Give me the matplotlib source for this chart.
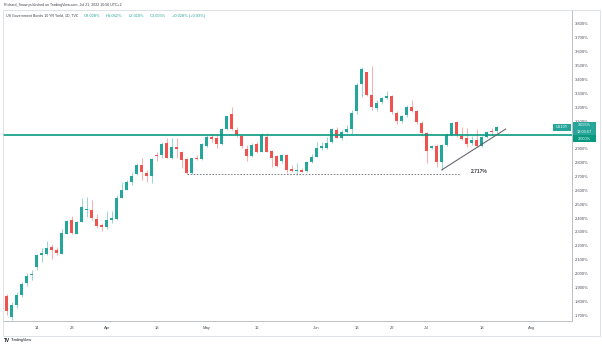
import matplotlib
matplotlib.use("Agg")
import matplotlib.pyplot as plt
import numpy as np
import pandas as pd
from matplotlib.patches import Rectangle

# ---- daily OHLC of the US 10Y yield (in %), 4 Mar 2022 .. 21 Jul 2022 ----
opens = [1.840, 1.689, 1.773, 1.845, 1.934, 1.987, 2.050, 2.131, 2.143, 2.191,
         2.172, 2.143, 2.288, 2.386, 2.288, 2.374, 2.456, 2.461, 2.391, 2.350,
         2.333, 2.389, 2.391, 2.547, 2.602, 2.658, 2.720, 2.783, 2.725, 2.701,
         2.857, 2.855, 2.939, 2.833, 2.910, 2.879, 2.824, 2.722, 2.836, 2.824,
         2.920, 2.987, 2.975, 2.934, 3.040, 3.148, 3.035, 2.994, 2.896, 2.850,
         2.937, 2.879, 2.985, 2.886, 2.848, 2.812, 2.855, 2.751, 2.740, 2.747,
         2.742, 2.802, 2.843, 2.908, 2.908, 2.946, 3.035, 2.975, 3.018, 3.042,
         3.175, 3.364, 3.451, 3.288, 3.192, 3.240, 3.264, 3.280, 3.160, 3.100,
         3.140, 3.200, 3.175, 3.083, 3.011, 2.903, 2.920, 2.807, 2.927, 3.000,
         3.095, 2.992, 2.975, 2.939, 2.963, 2.920, 2.987, 3.030, 3.028]
highs = [1.850, 1.797, 1.869, 1.941, 2.002, 2.026, 2.139, 2.182, 2.235, 2.211,
         2.194, 2.321, 2.386, 2.418, 2.379, 2.543, 2.555, 2.531, 2.427, 2.367,
         2.451, 2.451, 2.567, 2.658, 2.674, 2.730, 2.795, 2.835, 2.747, 2.831,
         2.879, 2.951, 2.980, 2.975, 2.975, 2.884, 2.831, 2.836, 2.855, 2.944,
         2.999, 3.004, 3.004, 3.047, 3.139, 3.204, 3.059, 3.000, 2.927, 2.939,
         2.946, 3.011, 3.011, 2.891, 2.855, 2.864, 2.860, 2.783, 2.795, 2.759,
         2.807, 2.860, 2.946, 2.946, 2.987, 3.047, 3.059, 3.035, 3.071, 3.179,
         3.372, 3.492, 3.456, 3.497, 3.250, 3.275, 3.316, 3.290, 3.175, 3.145,
         3.215, 3.250, 3.180, 3.100, 3.020, 2.930, 2.935, 2.935, 3.010, 3.090,
         3.100, 3.060, 3.050, 2.990, 3.040, 2.995, 3.030, 3.050, 3.062]
lows = [1.701, 1.665, 1.754, 1.833, 1.910, 1.953, 2.026, 2.081, 2.134, 2.105,
        2.134, 2.143, 2.288, 2.288, 2.285, 2.369, 2.410, 2.386, 2.326, 2.307,
        2.321, 2.367, 2.386, 2.547, 2.602, 2.638, 2.710, 2.674, 2.662, 2.650,
        2.811, 2.831, 2.831, 2.826, 2.831, 2.759, 2.720, 2.717, 2.819, 2.819,
        2.915, 2.951, 2.903, 2.927, 3.035, 3.035, 2.987, 2.908, 2.811, 2.843,
        2.867, 2.874, 2.874, 2.771, 2.768, 2.795, 2.723, 2.730, 2.711, 2.730,
        2.735, 2.795, 2.838, 2.891, 2.898, 2.939, 2.975, 2.963, 3.011, 3.004,
        3.148, 3.276, 3.283, 3.179, 3.170, 3.225, 3.256, 3.150, 3.080, 3.085,
        3.130, 3.165, 3.080, 2.990, 2.800, 2.895, 2.770, 2.747, 2.920, 2.995,
        2.985, 2.960, 2.910, 2.925, 2.915, 2.910, 2.980, 3.000, 3.010]
closes = [1.730, 1.773, 1.845, 1.922, 1.985, 1.997, 2.134, 2.148, 2.187, 2.167,
          2.148, 2.290, 2.379, 2.290, 2.374, 2.478, 2.466, 2.398, 2.345, 2.333,
          2.384, 2.398, 2.547, 2.600, 2.658, 2.703, 2.783, 2.734, 2.701, 2.824,
          2.848, 2.937, 2.836, 2.910, 2.898, 2.819, 2.722, 2.831, 2.824, 2.934,
          2.982, 2.973, 2.932, 3.040, 3.134, 3.040, 2.999, 2.922, 2.850, 2.927,
          2.879, 2.999, 2.879, 2.831, 2.778, 2.855, 2.747, 2.742, 2.744, 2.735,
          2.802, 2.843, 2.908, 2.917, 2.939, 3.042, 2.980, 3.023, 3.042, 3.155,
          3.360, 3.473, 3.288, 3.199, 3.232, 3.264, 3.280, 3.163, 3.100, 3.133,
          3.200, 3.175, 3.090, 3.011, 2.886, 2.920, 2.807, 2.927, 3.000, 3.083,
          3.000, 2.968, 2.934, 2.963, 2.920, 2.987, 3.023, 3.023, 3.055]

# trading sessions (Good Friday has no bar)
session_days = pd.bdate_range("2022-03-04", "2022-08-05").drop(pd.Timestamp("2022-04-15"))

tick_dates = ["2022-03-14", "2022-03-23", "2022-04-01", "2022-04-18", "2022-05-02",
              "2022-05-16", "2022-06-01", "2022-06-13", "2022-06-22", "2022-07-01",
              "2022-07-18", "2022-08-01"]
tick_labels = ["14", "23", "Apr", "18", "May", "16", "Jun", "13", "22", "Jul", "18", "Aug"]

price_ticks = [1.7, 1.8, 1.9, 2.0, 2.1, 2.2, 2.3, 2.4, 2.5, 2.6, 2.7,
               2.8, 2.9, 3.0, 3.1, 3.2, 3.3, 3.4, 3.5, 3.6, 3.7, 3.8]

resistance_level = 3.000
support_level = 2.717
support_start = "2022-04-26"
trend_start = ("2022-07-06", 2.747)
trend_end = ("2022-07-25", 3.042)

last_price = 3.055
header_items = ["O3.028%", "H3.062%", "L3.010%", "C3.055%", "+0.028% (+0.93%)"]

# ---- styling ----
UP = "#26a69a"
DOWN = "#ef5350"
LEVEL = "#089981"
AXIS_TXT = "#4a4e59"
FRAME = "#d1d4dc"
plt.rcParams["font.family"] = ["Liberation Sans", "DejaVu Sans"]

W, H = 602, 346
fig = plt.figure(figsize=(W / 100, H / 100), dpi=100)
fig.patch.set_facecolor("white")

L_px, R_px, T_px, B_px = 3, 572, 10, 321
ax = fig.add_axes([L_px / W, 1 - B_px / H, (R_px - L_px) / W, (B_px - T_px) / H])

n = len(opens)
idx = np.arange(n)
o = np.array(opens); h = np.array(highs); l = np.array(lows); c = np.array(closes)
up = c >= o
colors = np.where(up, UP, DOWN)

# wicks
ax.vlines(idx, l, h, colors=colors, linewidth=0.75, alpha=0.45, zorder=2)
# bodies
body_low = np.minimum(o, c)
body_h = np.maximum(np.abs(c - o), 0.006)
ax.bar(idx, body_h, bottom=body_low, width=0.68, color=colors, linewidth=0, zorder=3)

def day_index(d):
    return session_days.get_loc(pd.Timestamp(d))

# horizontal resistance
ax.axhline(resistance_level, color=LEVEL, linewidth=1.2, zorder=4)

# support level (dotted) with label
x0 = day_index(support_start)
x1 = day_index("2022-07-11") + 0.4
ax.hlines(support_level, x0, x1, colors="#7b7e88", linestyles=(0, (1.6, 1.6)),
          linewidth=0.7, zorder=4)
ax.text(day_index("2022-07-15") + 0.5, support_level + 0.02, f"{support_level:.3f}%",
        fontsize=3.6, color="#3c3f48", ha="center", va="center", fontweight="bold", zorder=5)

# rising trend line
ax.plot([day_index(trend_start[0]), day_index(trend_end[0]) - 0.2],
        [trend_start[1], trend_end[1]], color="#5d606b", linewidth=0.75, zorder=4)

# axes limits: 5 px per session, 138.6 px per 1 %
ax.set_xlim(-0.74, 113.06)
ax.set_ylim(1.657, 3.901)

ax.set_facecolor("white")
for side in ("left", "top"):
    ax.spines[side].set_visible(False)
for side in ("right", "bottom"):
    ax.spines[side].set_color("#b2b5be")
    ax.spines[side].set_linewidth(0.6)

ax.yaxis.tick_right()
ax.set_yticks(price_ticks)
ax.set_yticklabels([f"{v:.3f}%" for v in price_ticks])
ax.tick_params(axis="y", length=0, pad=2.3, labelsize=3.0, labelcolor=AXIS_TXT)
for t in ax.get_yticklabels():
    t.set_horizontalalignment("left")

ax.set_xticks([day_index(d) for d in tick_dates])
ax.set_xticklabels(tick_labels)
ax.tick_params(axis="x", length=0, pad=3.6, labelsize=3.0, labelcolor=AXIS_TXT)

# ---- outer frame ----
def fx(px):
    return px / W

def fy(py):
    return 1 - py / H

fig.add_artist(Rectangle((fx(3), fy(336)), fx(600) - fx(3), fy(10) - fy(336),
                         transform=fig.transFigure, fill=False, edgecolor=FRAME,
                         linewidth=0.5))

# ---- price labels on the scale ----
def label_box(x_px, y_px, w_px, h_px, color, lines, fs=2.8):
    fig.add_artist(Rectangle((fx(x_px), fy(y_px + h_px)), w_px / W, h_px / H,
                             transform=fig.transFigure, facecolor=color,
                             edgecolor="none", zorder=10))
    step = h_px / len(lines)
    for k, s in enumerate(lines):
        fig.text(fx(x_px + w_px / 2), fy(y_px + step * (k + 0.5)), s, color="white",
                 fontsize=fs, ha="center", va="center", zorder=11)

label_box(553, 123.5, 18, 7, UP, ["US10Y"])
label_box(572.5, 122, 23, 13, UP, [f"{last_price:.3f}%", "12:03:57"])
label_box(572.5, 135.5, 23, 7, LEVEL, [f"{resistance_level:.3f}%"])

# ---- header ----
fig.text(fx(4), fy(5), "Richard_Snow published on TradingView.com, Jul 21, 2022 10:56 UTC+2",
         fontsize=2.6, color="#3c3f48", ha="left", va="center")
t1 = fig.text(fx(6), fy(16), "US Government Bonds 10 YR Yield, 1D, TVC",
              fontsize=2.6, color="#3c3f48", ha="left", va="center")
renderer = fig.canvas.get_renderer()
xpos = t1.get_window_extent(renderer=renderer).x1 + 5
for item in header_items:
    ti = fig.text(xpos / W, fy(16), item, fontsize=2.9, color=UP, ha="left", va="center")
    xpos = ti.get_window_extent(renderer=renderer).x1 + 6

# ---- footer ----
fig.text(fx(4), fy(340), "TV", fontsize=3.4, color="#131722", fontweight="bold",
         ha="left", va="center")
fig.text(fx(11), fy(340), "TradingView", fontsize=2.8, color="#131722", ha="left", va="center")

fig.savefig("out.png", dpi=100, facecolor="white")
